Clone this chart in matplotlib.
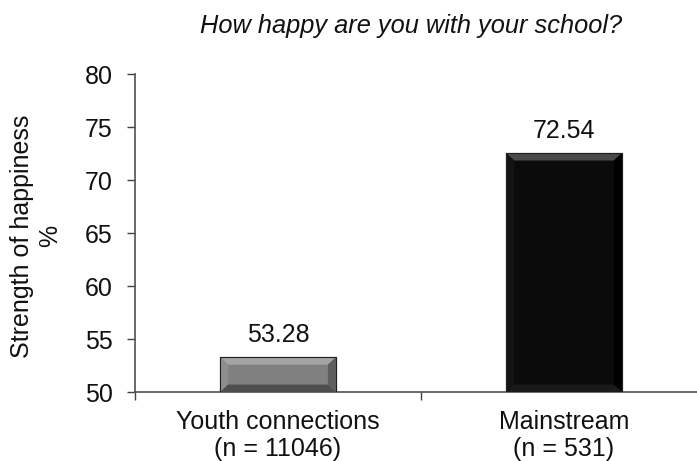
import matplotlib.pyplot as plt
from matplotlib.patches import Polygon

plt.rcParams['font.family'] = ['Liberation Sans', 'DejaVu Sans']

categories = ["Youth connections\n(n = 11046)", "Mainstream\n(n = 531)"]
values = [53.28, 72.54]
face_colors = ["#808080", "#0b0b0b"]
light_colors = ["#a4a4a4", "#4a4a4a"]
side_light = ["#8e8e8e", "#141414"]
side_dark = ["#5e5e5e", "#000000"]
bottom_colors = ["#4e4e4e", "#1a1a1a"]
baseline = 50

fig = plt.figure(figsize=(6.97, 4.61), dpi=100)
ax = fig.add_axes([135 / 697, (461 - 392) / 461, 572 / 697, 318 / 461])

x = list(range(len(categories)))
bars = ax.bar(x, [v - baseline for v in values], bottom=baseline, width=0.405,
              color=face_colors, edgecolor="#202020", linewidth=0.8, zorder=2)

# bevel effect on each bar
dx, dy = 0.028, 0.7
for bar, lc, sl, sd, bc in zip(bars, light_colors, side_light, side_dark, bottom_colors):
    x0 = bar.get_x()
    x1 = x0 + bar.get_width()
    y0 = baseline
    y1 = baseline + bar.get_height()
    top = Polygon([(x0, y1), (x1, y1), (x1 - dx, y1 - dy), (x0 + dx, y1 - dy)], color=lc, zorder=3, lw=0)
    left = Polygon([(x0, y0), (x0, y1), (x0 + dx, y1 - dy), (x0 + dx, y0 + dy)], color=sl, zorder=3, lw=0)
    right = Polygon([(x1, y0), (x1, y1), (x1 - dx, y1 - dy), (x1 - dx, y0 + dy)], color=sd, zorder=3, lw=0)
    bottom = Polygon([(x0, y0), (x1, y0), (x1 - dx, y0 + dy), (x0 + dx, y0 + dy)], color=bc, zorder=3, lw=0)
    for p in (top, left, right, bottom):
        ax.add_patch(p)
    ax.add_patch(Polygon([(x0, y0), (x1, y0), (x1, y1), (x0, y1)], fill=False,
                         edgecolor="#202020", lw=0.8, zorder=4))

for xi, v in zip(x, values):
    ax.text(xi, v + 1.4, f"{v:.2f}", ha="center", va="baseline", fontsize=18, color="#111111")

ax.set_xlim(-0.5, 1.5)
ax.set_ylim(50, 80)
ax.set_yticks(range(50, 81, 5))
ax.set_xticks([-0.5, 0.5, 1.5])
ax.set_xticklabels([])
ax.set_xticks(x, minor=True)
ax.set_xticklabels(categories, minor=True, fontsize=18, linespacing=1.17, color="#111111")
ax.tick_params(axis="x", which="minor", length=0, pad=13)
ax.tick_params(axis="x", which="major", length=6, width=1, color="#404040")
ax.tick_params(axis="y", length=6, width=1, color="#404040", labelsize=18, pad=10, labelcolor="#111111")

for s in ("top", "right"):
    ax.spines[s].set_visible(False)
for s in ("left", "bottom"):
    ax.spines[s].set_color("#505050")
    ax.spines[s].set_linewidth(1.2)

fig.text(36 / 697, 1 - 236 / 461, "Strength of happiness\n%", rotation=90, ha="center", va="center",
         multialignment="center", fontsize=18, linespacing=1.25, color="#111111")
fig.text(411 / 697, 1 - 33 / 461, "How happy are you with your school?", ha="center", va="baseline",
         fontsize=18.3, style="italic", color="#111111")

fig.savefig("out.png", dpi=100)
